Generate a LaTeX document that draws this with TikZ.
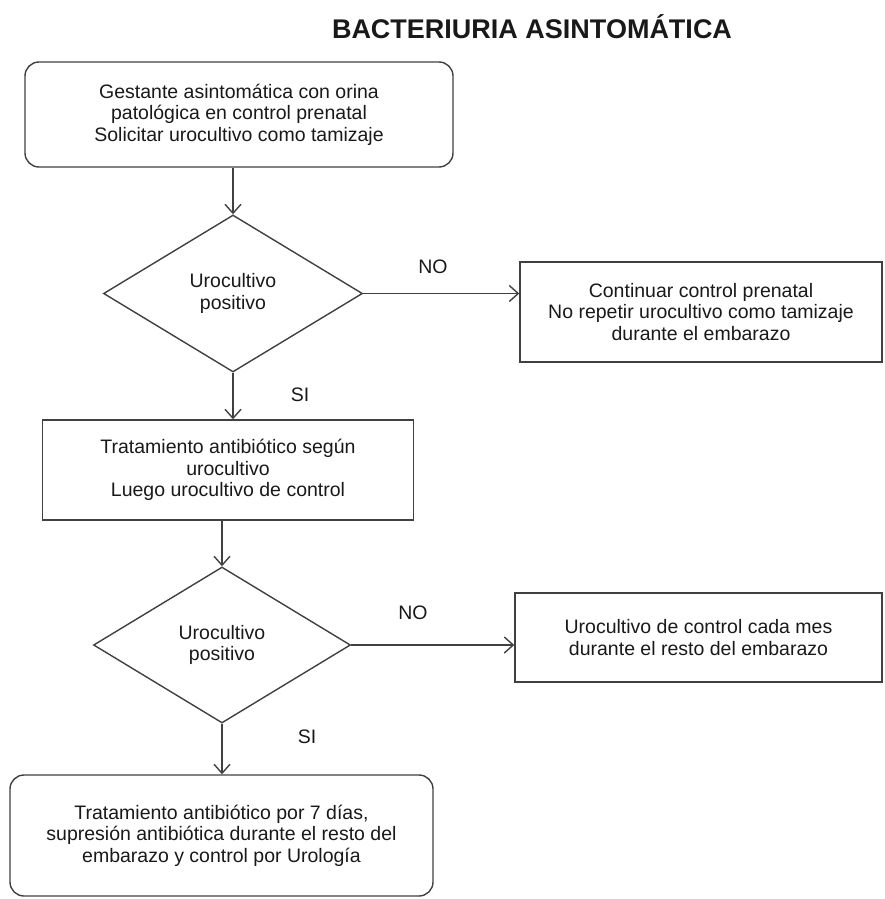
\documentclass[tikz,border=0pt]{standalone}
\usepackage{fontspec}
\setmainfont{Liberation Sans}
\usepackage{tikz}
\usetikzlibrary{shapes.geometric,arrows.meta}

\begin{document}
\begin{tikzpicture}[x=1pt,y=-1pt,
  every node/.style={font=\fontsize{19.5}{21.5}\selectfont, align=center, text=black!90},
  box/.style={draw=black!75, line width=1.4pt, inner sep=0pt},
  roundbox/.style={box, rounded corners=14pt},
  decision/.style={draw=black!75, line width=1.4pt, diamond, inner sep=0pt},
  flow/.style={draw=black!75, line width=1.4pt, -{Straight Barb[length=9pt,width=16pt,line width=1.4pt]}}]
\useasboundingbox (0,0) rectangle (884,899);

\node (title) at (532,27) [font=\fontsize{27}{30}\selectfont\bfseries] {BACTERIURIA ASINTOMÁTICA};

\node (start) at (239,114.5) [roundbox, minimum width=428pt, minimum height=105pt] {Gestante asintomática con orina\\patológica en control prenatal\\Solicitar urocultivo como tamizaje};
\node (test1) at (233,293.5) [decision, minimum width=259pt, minimum height=157pt] {Urocultivo\\positivo};
\node (cont) at (701,312) [box, minimum width=362pt, minimum height=100pt] {Continuar control prenatal\\No repetir urocultivo como tamizaje\\durante el embarazo};
\node (treat) at (228,470) [box, minimum width=371pt, minimum height=100pt] {Tratamiento antibiótico según\\urocultivo\\Luego urocultivo de control};
\node (test2) at (222,645) [decision, minimum width=257pt, minimum height=156pt] {Urocultivo\\positivo};
\node (monthly) at (698.5,637.5) [box, minimum width=367pt, minimum height=89pt] {Urocultivo de control cada mes\\durante el resto del embarazo};
\node (final) at (221.5,835.5) [roundbox, minimum width=423pt, minimum height=121pt] {Tratamiento antibiótico por 7 días,\\supresión antibiótica durante el resto del\\embarazo y control por Urología};

\node (no1) at (433,267) {NO};
\node (si1) at (300,395) {SI};
\node (no2) at (413,613) {NO};
\node (si2) at (307,737) {SI};

\draw[flow] (start.south -| test1.north) -- (test1.north);
\draw[flow] (test1.east) -- (test1.east -| cont.west);
\draw[flow] (test1.south) -- (test1.south |- treat.north);
\draw[flow] (treat.south -| test2.north) -- (test2.north);
\draw[flow] (test2.east) -- (test2.east -| monthly.west);
\draw[flow] (test2.south) -- (test2.south |- final.north);

\end{tikzpicture}
\end{document}
